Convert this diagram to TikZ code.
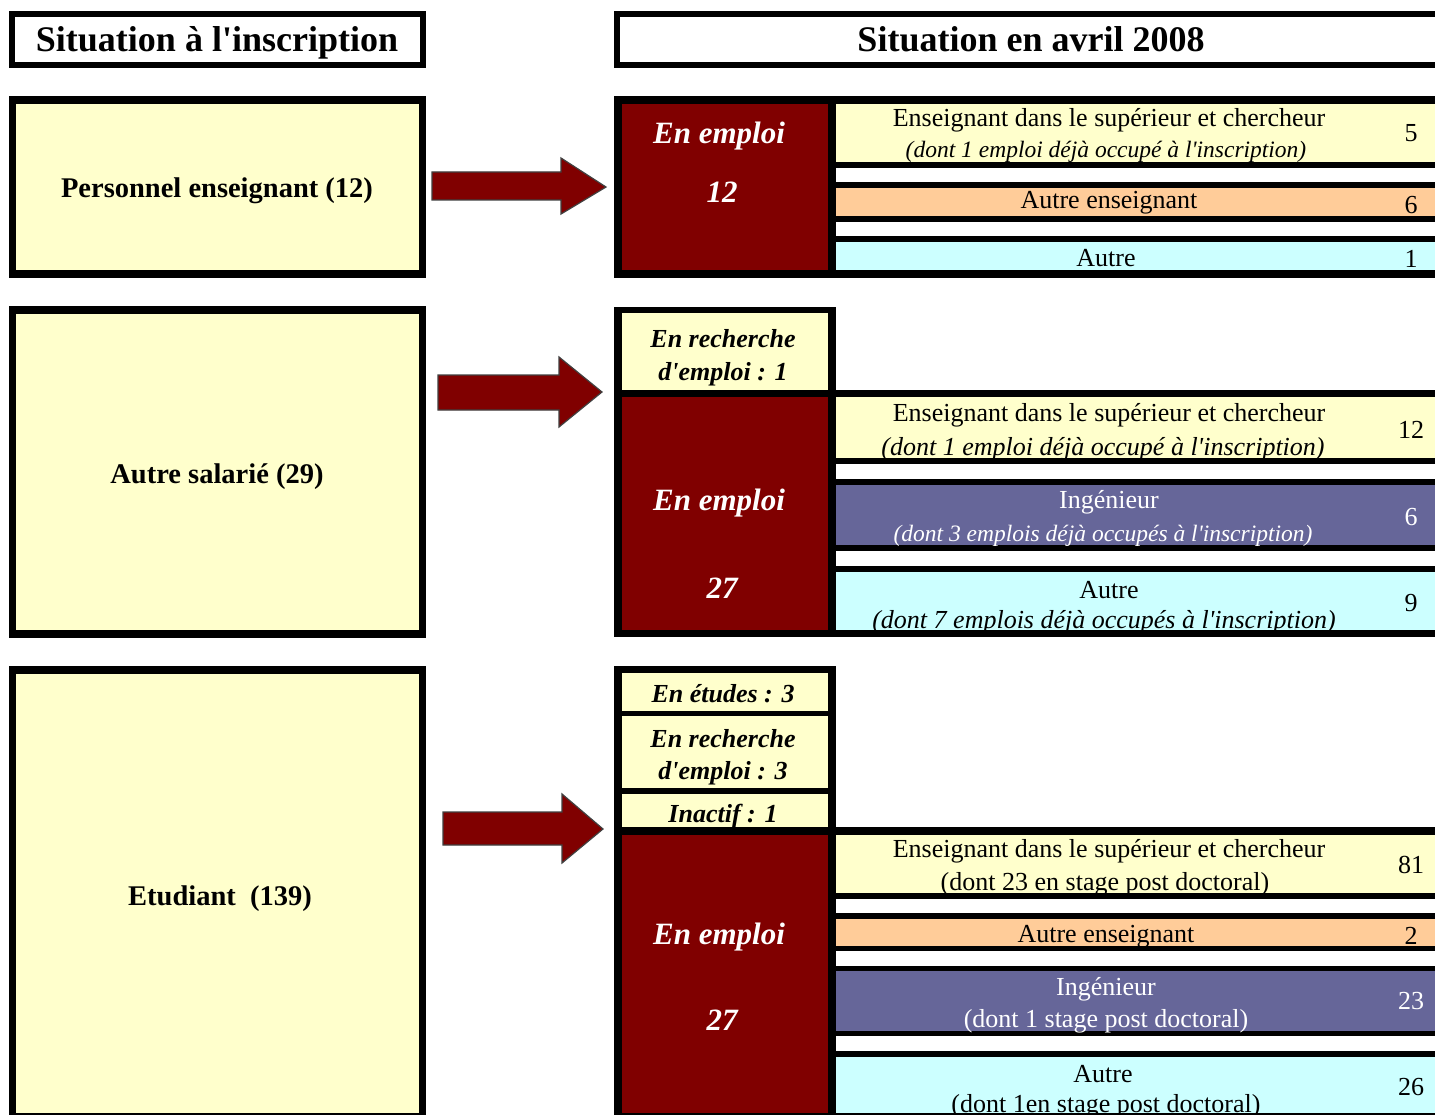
\documentclass[tikz,border=0pt]{standalone}
\usepackage{fontspec}
\setmainfont{Liberation Serif}[Ligatures=TeXOff]
\usetikzlibrary{fit}
\definecolor{yel}{HTML}{FFFFCC}
\definecolor{dred}{HTML}{800000}
\definecolor{ora}{HTML}{FFCC99}
\definecolor{cya}{HTML}{CCFFFF}
\definecolor{pur}{HTML}{666699}
\tikzset{
  band/.style={fill=#1, draw=none, inner sep=0pt, outer sep=0pt},
  tbase/.style={anchor=base, inner sep=0pt, yshift=-2pt},
  fhead/.style={tbase, font=\fontsize{36}{40}\selectfont\bfseries},
  flab/.style={tbase, font=\fontsize{28.5}{32}\selectfont\bfseries},
  femp/.style={tbase, text=white, font=\fontsize{31}{35}\selectfont\bfseries\itshape},
  fsit/.style={tbase, font=\fontsize{26}{30}\selectfont\bfseries\itshape},
  fbody/.style={tbase, font=\fontsize{26}{30}\selectfont},
  fital/.style={tbase, font=\fontsize{26}{30}\selectfont\itshape},
  fsmal/.style={tbase, font=\fontsize{23.5}{27}\selectfont\itshape},
  fnum/.style={tbase, font=\fontsize{26}{30}\selectfont},
  bigarrow/.style={fill=dred, draw=black!75, line width=1.2pt, line join=miter}
}
\begin{document}
\begin{tikzpicture}[x=1pt,y=-1pt]
\useasboundingbox[fill=white] (0,0) rectangle (1435,1115);
% ---------- headers ----------
\node[band=black, fit={(9,11)(426,68)}] (h1o) {};
\node[band=white, fit={(15,17)(420,62)}] (h1i) {};
\node[fhead] (h1t) at (217,50) {Situation à l'inscription};
\node[band=black, fit={(614,11)(1435,68)}] (h2o) {};
\node[band=white, fit={(620,17)(1435,62)}] (h2i) {};
\node[fhead] (h2t) at (1031,50) {Situation en avril 2008};
% ---------- left boxes ----------
\node[band=black, fit={(9,96)(426,278)}] (l1o) {};
\node[band=yel, fit={(16,104)(419,270)}] (l1i) {};
\node[flab] (l1t) at (217,196) {Personnel enseignant (12)};
\node[band=black, fit={(9,306)(426,638)}] (l2o) {};
\node[band=yel, fit={(16,314)(419,630)}] (l2i) {};
\node[flab] (l2t) at (217,481) {Autre salarié (29)};
\node[band=black, fit={(9,666)(426,1115)}] (l3o) {};
\node[band=yel, fit={(16,674)(419,1113)}] (l3i) {};
\node[flab] (l3t) at (220,903) {Etudiant\ \ (139)};
% ---------- arrows ----------
\draw[bigarrow] (432,172) -- (561,172) -- (561,158) -- (606,187) -- (561,214) -- (561,200) -- (432,200) -- cycle;
\draw[bigarrow] (438,375) -- (559,375) -- (559,357) -- (602,392) -- (559,427) -- (559,410) -- (438,410) -- cycle;
\draw[bigarrow] (443,812) -- (562,812) -- (562,794) -- (603,829) -- (562,863) -- (562,845) -- (443,845) -- cycle;
% ---------- row 1 ----------
\node[band=black, fit={(614,96)(1435,278)}] (r1o) {};
\node[band=dred, fit={(622,104)(828,270)}] (r1e) {};
\node[band=yel, fit={(836,104)(1435,162)}] (r1a) {};
\node[band=white, fit={(836,168)(1435,182)}] (r1g1) {};
\node[band=ora, fit={(836,188)(1435,216)}] (r1b) {};
\node[band=white, fit={(836,222)(1435,236)}] (r1g2) {};
\node[band=cya, fit={(836,242)(1435,270)}] (r1c) {};
\node[femp] (r1et) at (719,142) {En emploi};
\node[femp] (r1en) at (722,201) {12};
\node[fbody] (r1at) at (1109,125) {Enseignant dans le supérieur et chercheur};
\node[fsmal] (r1as) at (1106,156) {(dont 1 emploi déjà occupé à l'inscription)};
\node[fnum] (r1an) at (1411,140) {5};
\node[fbody] (r1bt) at (1109,207) {Autre enseignant};
\node[fnum] (r1bn) at (1411,212) {6};
\node[fbody] (r1ct) at (1106,265) {Autre};
\node[fnum] (r1cn) at (1411,266) {1};
% ---------- row 2 ----------
\node[band=black, fit={(614,307)(836,397)}] (r2so) {};
\node[band=yel, fit={(622,313)(828,390)}] (r2s) {};
\node[fsit] (r2st1) at (723,346) {En recherche};
\node[fsit] (r2st2) at (723,378) {d'emploi : 1};
\node[band=black, fit={(614,390)(1435,637)}] (r2o) {};
\node[band=dred, fit={(622,397)(828,630)}] (r2e) {};
\node[band=yel, fit={(836,397)(1435,458)}] (r2a) {};
\node[band=white, fit={(836,464)(1435,479)}] (r2g1) {};
\node[band=pur, fit={(836,485)(1435,545)}] (r2b) {};
\node[band=white, fit={(836,551)(1435,566)}] (r2g2) {};
\node[band=cya, fit={(836,572)(1435,630)}] (r2c) {};
\node[femp] (r2et) at (719,508) {En emploi};
\node[femp] (r2en) at (722,596) {27};
\node[fbody] (r2at) at (1109,419) {Enseignant dans le supérieur et chercheur};
\node[fital] (r2as) at (1103,453) {(dont 1 emploi déjà occupé à l'inscription)};
\node[fnum] (r2an) at (1411,436) {12};
\node[fbody, text=white] (r2bt) at (1109,506) {Ingénieur};
\node[fsmal, text=white] (r2bs) at (1103,539) {(dont 3 emplois déjà occupés à l'inscription)};
\node[fnum, text=white] (r2bn) at (1411,523) {6};
\node[fbody] (r2ct) at (1109,596) {Autre};
\node[fital] (r2cs) at (1104,626) {(dont 7 emplois déjà occupés à l'inscription)};
\node[fnum] (r2cn) at (1411,609) {9};
% ---------- row 3 ----------
\node[band=black, fit={(614,666)(836,835)}] (r3so) {};
\node[band=yel, fit={(622,673)(828,711)}] (r3s1) {};
\node[band=yel, fit={(622,716)(828,788)}] (r3s2) {};
\node[band=yel, fit={(622,794)(828,827)}] (r3s3) {};
\node[fsit] (r3s1t) at (723,700) {En études : 3};
\node[fsit] (r3s2t1) at (723,745) {En recherche};
\node[fsit] (r3s2t2) at (723,777) {d'emploi : 3};
\node[fsit] (r3s3t) at (723,820) {Inactif : 1};
\node[band=black, fit={(614,827)(1435,1115)}] (r3o) {};
\node[band=dred, fit={(622,835)(828,1113)}] (r3e) {};
\node[band=yel, fit={(836,835)(1435,893)}] (r3a) {};
\node[band=white, fit={(836,899)(1435,913)}] (r3g1) {};
\node[band=ora, fit={(836,919)(1435,946)}] (r3b) {};
\node[band=white, fit={(836,951)(1435,966)}] (r3g2) {};
\node[band=pur, fit={(836,971)(1435,1031)}] (r3c) {};
\node[band=white, fit={(836,1036)(1435,1051)}] (r3g3) {};
\node[band=cya, fit={(836,1057)(1435,1113)}] (r3d) {};
\node[femp] (r3et) at (719,942) {En emploi};
\node[femp] (r3en) at (722,1028) {27};
\node[fbody] (r3at) at (1109,855) {Enseignant dans le supérieur et chercheur};
\node[fbody] (r3as) at (1105,888) {(dont 23 en stage post doctoral)};
\node[fnum] (r3an) at (1411,871) {81};
\node[fbody] (r3bt) at (1106,940) {Autre enseignant};
\node[fnum] (r3bn) at (1411,942) {2};
\node[fbody, text=white] (r3ct) at (1106,993) {Ingénieur};
\node[fbody, text=white] (r3cs) at (1106,1025) {(dont 1 stage post doctoral)};
\node[fnum, text=white] (r3cn) at (1411,1007) {23};
\node[fbody] (r3dt) at (1103,1080) {Autre};
\node[fbody] (r3ds) at (1106,1110) {(dont 1en stage post doctoral)};
\node[fnum] (r3dn) at (1411,1093) {26};
\end{tikzpicture}
\end{document}
